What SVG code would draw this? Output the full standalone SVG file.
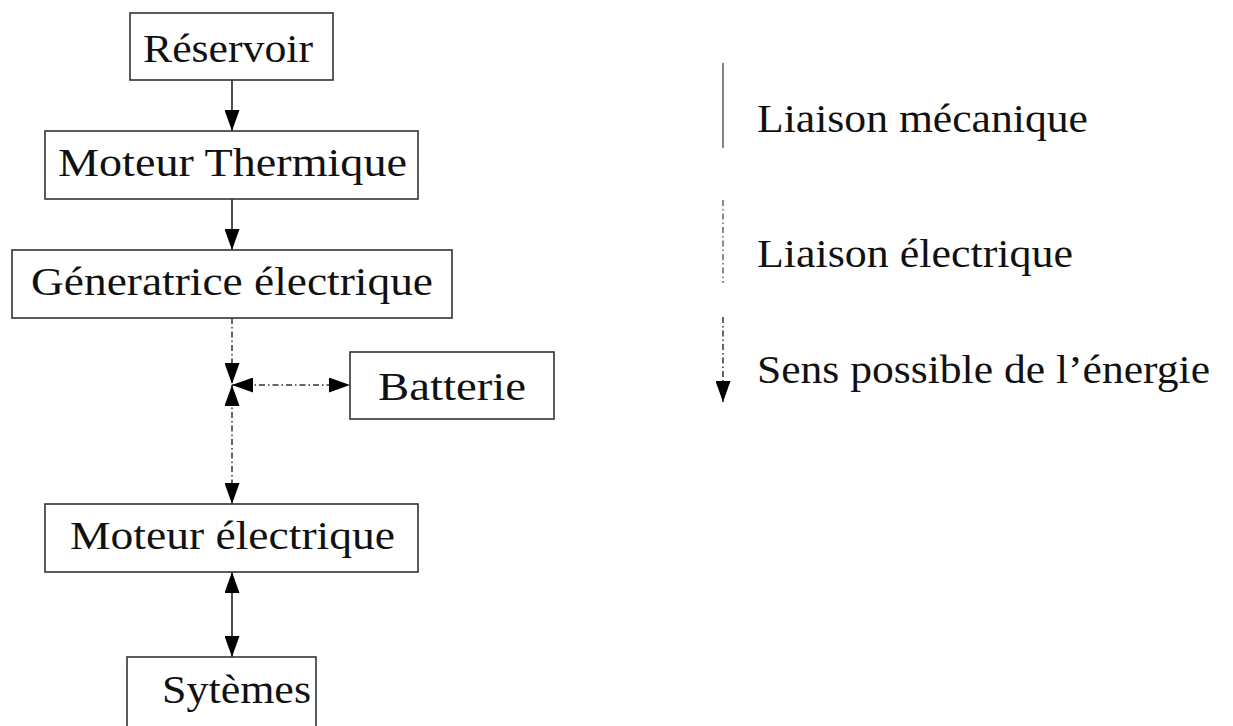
<svg xmlns="http://www.w3.org/2000/svg" width="1233" height="726" viewBox="0 0 1233 726">
<style>
.box{fill:#fff;stroke:#333;stroke-width:1.6}
.t{font-family:"Liberation Serif","DejaVu Serif",serif;font-size:41px;fill:#111}
.mech{stroke:#222;stroke-width:1.6;fill:none}
.elec{stroke:#333;stroke-width:1.5;fill:none;stroke-dasharray:6 3 1.5 3}
.leg{stroke:#666;stroke-width:1.6;fill:none}
</style>
<defs>
<marker id="ah" markerUnits="userSpaceOnUse" markerWidth="21" markerHeight="15" viewBox="0 0 21 15" refX="21" refY="7.5" orient="auto-start-reverse">
<path d="M0,0 L21,7.5 L0,15 z" fill="#000"/>
</marker>
</defs>
<rect width="1233" height="726" fill="#fff"/>
<g id="connectors">
<line class="mech" x1="232" y1="80" x2="232" y2="131" marker-end="url(#ah)"/>
<line class="mech" x1="232" y1="199" x2="232" y2="250" marker-end="url(#ah)"/>
<line class="elec" x1="232" y1="318" x2="232" y2="384" marker-end="url(#ah)"/>
<line class="elec" x1="232" y1="385" x2="350" y2="385" marker-start="url(#ah)" marker-end="url(#ah)"/>
<line class="elec" x1="232" y1="385" x2="232" y2="504" marker-start="url(#ah)" marker-end="url(#ah)"/>
<line class="mech" x1="232" y1="572" x2="232" y2="657" marker-start="url(#ah)" marker-end="url(#ah)"/>
</g>
<g id="reservoir">
<rect class="box" x="130" y="13" width="203" height="67"/>
<text class="t" x="143" y="62" textLength="170" lengthAdjust="spacingAndGlyphs">Réservoir</text>
</g>
<g id="moteur-thermique">
<rect class="box" x="45" y="131" width="373" height="68"/>
<text class="t" x="58" y="176" textLength="349" lengthAdjust="spacingAndGlyphs">Moteur Thermique</text>
</g>
<g id="generatrice">
<rect class="box" x="12" y="250" width="440" height="68"/>
<text class="t" x="31" y="295" textLength="402" lengthAdjust="spacingAndGlyphs">Géneratrice électrique</text>
</g>
<g id="batterie">
<rect class="box" x="350" y="352" width="204" height="67"/>
<text class="t" x="378" y="400" textLength="148" lengthAdjust="spacingAndGlyphs">Batterie</text>
</g>
<g id="moteur-electrique">
<rect class="box" x="45" y="504" width="373" height="68"/>
<text class="t" x="70" y="549" textLength="325" lengthAdjust="spacingAndGlyphs">Moteur électrique</text>
</g>
<g id="systemes">
<rect class="box" x="127" y="657" width="189" height="90"/>
<text class="t" x="162" y="703" textLength="149" lengthAdjust="spacingAndGlyphs">Sytèmes</text>
</g>
<g id="legend">
<line class="leg" x1="723" y1="63" x2="723" y2="148"/>
<text class="t" x="757" y="132" textLength="331" lengthAdjust="spacingAndGlyphs">Liaison mécanique</text>
<line class="elec" x1="723" y1="200" x2="723" y2="283" style="stroke:#666"/>
<text class="t" x="757" y="267" textLength="316" lengthAdjust="spacingAndGlyphs">Liaison électrique</text>
<line class="elec" x1="723" y1="317" x2="723" y2="402" marker-end="url(#ah)"/>
<text class="t" x="757" y="383" textLength="453" lengthAdjust="spacingAndGlyphs">Sens possible de l’énergie</text>
</g>
</svg>
